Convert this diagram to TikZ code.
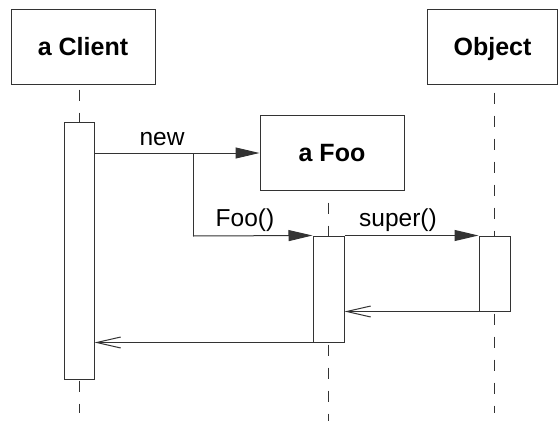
\documentclass[tikz,border=0pt]{standalone}
\usepackage{fontspec}
\setmainfont{Liberation Sans}
\usetikzlibrary{arrows.meta}
\begin{document}
\begin{tikzpicture}[x=1pt,y=-1pt,
  line width=1pt, draw=black!80,
  objbox/.style={draw, line width=1pt, minimum width=144pt, minimum height=75pt, inner sep=0pt, text height=17.5pt, text depth=0pt, font=\fontsize{25}{28}\selectfont\bfseries},
  actbox/.style={draw, line width=1pt, fill=white, inner sep=0pt},
  lifeline/.style={draw, dash pattern=on 11pt off 12pt},
  call/.style={draw, -{Triangle[length=24pt,width=11pt]}},
  ret/.style={draw, -{Straight Barb[length=24pt,width=11pt,line width=1pt]}},
  lbl/.style={font=\fontsize{24.5}{28}\selectfont, inner sep=0pt, anchor=base}]
\useasboundingbox (0,0) rectangle (558,421);
% object boxes
\node[objbox, minimum width=144pt] (client) at (83,46.5) {a Client};
\node[objbox, minimum width=144pt] (foo) at (332,152.5) {a Foo};
\node[objbox, minimum width=130pt] (object) at (492.5,46.5) {Object};
% activation boxes
\node[actbox, minimum width=30pt, minimum height=257pt] (aclient) at (79,250.5) {};
\node[actbox, minimum width=31pt, minimum height=106pt] (afoo) at (328.5,289) {};
\node[actbox, minimum width=31pt, minimum height=75pt] (aobj) at (494.5,273.5) {};
% lifeline end points
\coordinate (cend) at (79,413);
\coordinate (fend) at (328.5,421);
\coordinate (oend) at (494.5,413);
% lifelines
\draw[lifeline, dash phase=-5pt] (aclient.north |- client.south) -- (aclient.north);
\draw[lifeline, dash phase=-1pt] (aclient.south) -- (cend);
\draw[lifeline, dash phase=-12pt] (afoo.north |- foo.south) -- (afoo.north);
\draw[lifeline, dash phase=-2pt] (afoo.south) -- (fend);
\draw[lifeline, dash phase=-8pt] (aobj.north |- object.south) -- (aobj.north);
\draw[lifeline, dash phase=-2pt] (aobj.south) -- (oend);
% messages
\coordinate (split) at (193,153);
\coordinate (corner) at (193,236);
\draw[call] (aclient.east |- split) -- (foo.west |- split);
\draw (split) -- (corner);
\draw[call] (corner) -- (afoo.north west);
\draw[call] (afoo.north east) -- (aobj.north west);
\draw[ret] (aobj.south west) -- (afoo.east |- aobj.south west);
\draw[ret] (afoo.south west) -- (aclient.east |- afoo.south west);
% labels
\node[lbl] (lnew) at (162,145) {new};
\node[lbl] (lfoo) at (245,226) {Foo()};
\node[lbl] (lsuper) at (398,226) {super()};
\end{tikzpicture}
\end{document}
